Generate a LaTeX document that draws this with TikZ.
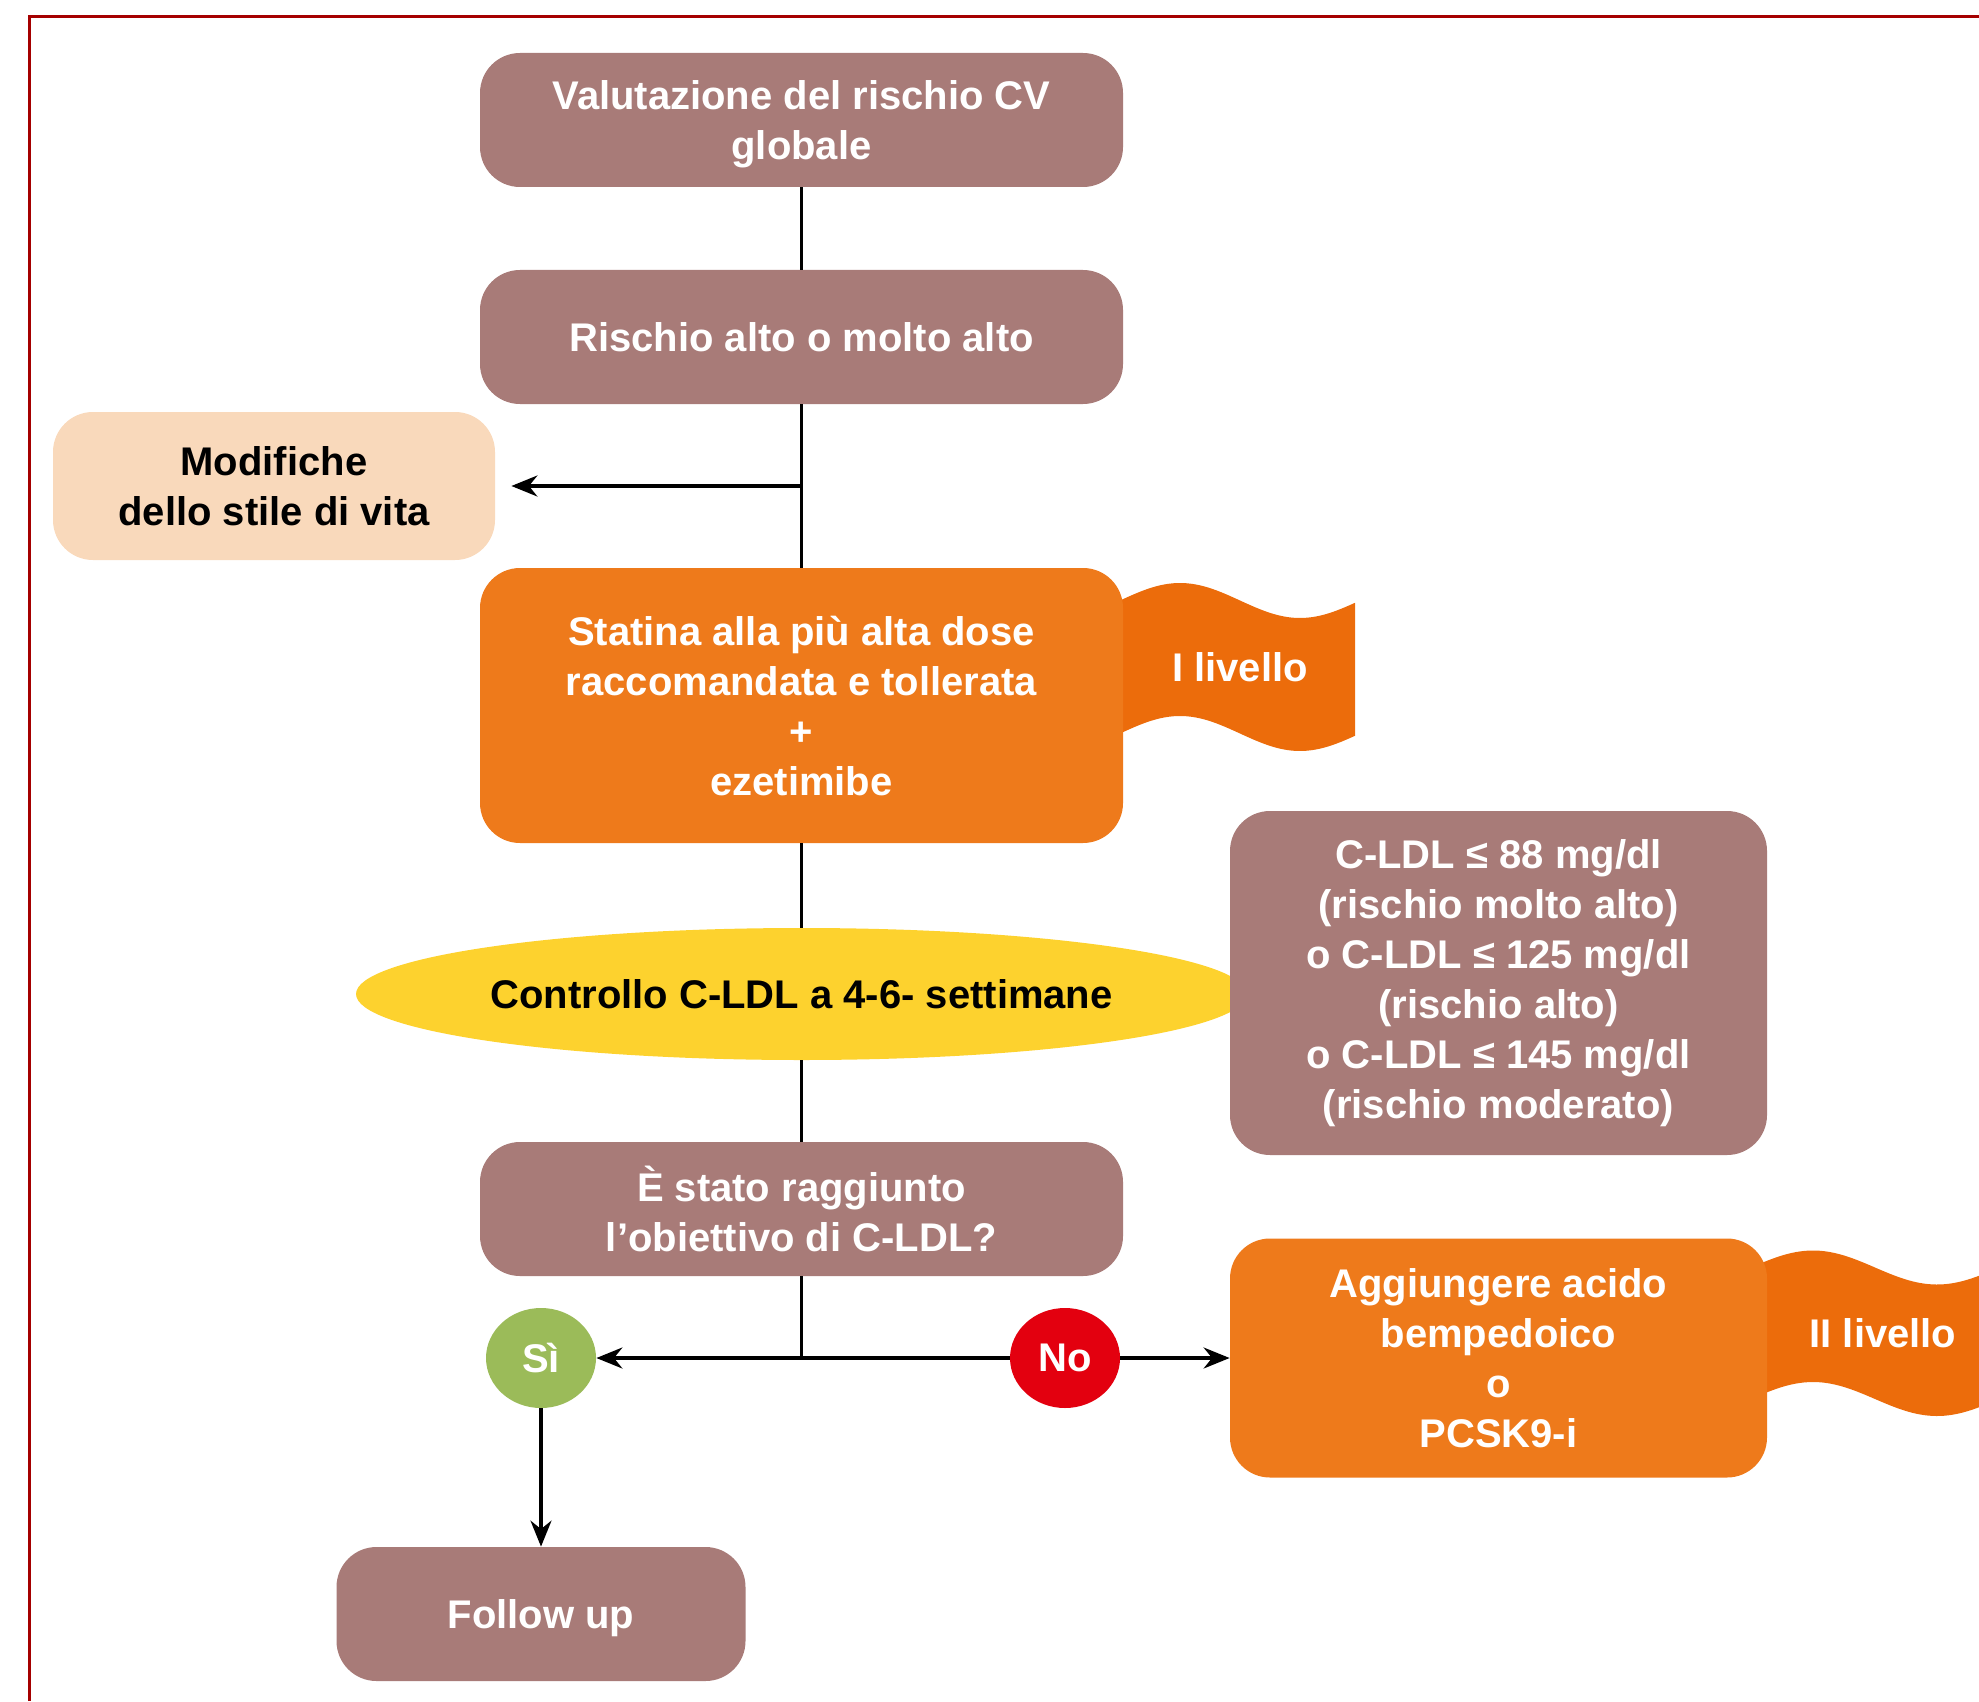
\documentclass[tikz,border=0pt]{standalone}
\usepackage{fontspec}
\setmainfont{Liberation Sans}
\usetikzlibrary{shapes.geometric,arrows.meta}

\definecolor{mauve}{HTML}{A87B78}
\definecolor{boxor}{HTML}{EE7A1B}
\definecolor{flagor}{HTML}{EC6C0B}
\definecolor{peach}{HTML}{F9D9BB}
\definecolor{giallo}{HTML}{FDD22E}
\definecolor{verde}{HTML}{9BBB59}
\definecolor{rosso}{HTML}{E3000F}
\definecolor{cornice}{HTML}{A50000}

\tikzset{
	txt/.style={font=\bfseries\fontsize{20}{25}\selectfont, align=center, inner sep=0pt, text depth=0pt},
	box/.style={txt, rectangle, rounded corners=20pt, fill=mauve, text=white},
	orbox/.style={box, fill=boxor},
	choice/.style={txt, ellipse, minimum width=55pt, minimum height=50pt, text=white},
	line/.style={line width=1.6pt},
	arr/.style={line, -{Stealth[length=13pt, width=10.5pt]}}
}

\begin{document}
\begin{tikzpicture}[x=0.5pt, y=-0.5pt]
	\useasboundingbox (0,0) rectangle (1979,1701);
	\draw[cornice, line width=1.5pt] (29,1701) -- (29,17) -- (1979,17); % frame

	% flags (behind the boxes)
	\fill[flagor] plot[domain=1100:1355, samples=60] (\x, {600.5-17.5*cos(1.5*(\x-1180))})
		-- plot[domain=1355:1100, samples=60] (\x, {733.5-17.5*cos(1.5*(\x-1180))}) -- cycle;
	\fill[flagor] plot[domain=1750:1979, samples=60] (\x, {1267.5-17*cos(1.4516*(\x-1813))})
		-- plot[domain=1979:1750, samples=60] (\x, {1399-17*cos(1.4516*(\x-1813))}) -- cycle;
	\node[txt, text=white] (liv1) at (1240,667) {I livello};
	\node[txt, text=white] (liv2) at (1883,1333) {II livello};

	\node[box, minimum width=321.5pt, minimum height=67pt] (val) at (801.5,120) {Valutazione del rischio CV\\globale};
	\node[box, minimum width=321.5pt, minimum height=67pt] (risk) at (801.5,337) {Rischio alto o molto alto};
	\node[box, fill=peach, text=black, minimum width=221pt, minimum height=74pt] (mod) at (274,486) {Modifiche\\dello stile di vita};
	\node[orbox, minimum width=321.5pt, minimum height=137.5pt] (stat) at (801.5,705.5)
		{Statina alla più alta dose\\raccomandata e tollerata\\+\\ezetimibe};
	\node[txt, ellipse, fill=giallo, minimum width=445.5pt, minimum height=66pt] (ctrl) at (801.5,994)
		{Controllo C-LDL a 4-6- settimane};
	\node[box, text depth=, minimum width=268.5pt, minimum height=172pt] (target) at (1498.5,983)
		{C-LDL ≤ 88 mg/dl\\(rischio molto alto)\\o C-LDL ≤ 125 mg/dl\\(rischio alto)\\o C-LDL ≤ 145 mg/dl\\(rischio moderato)};
	\node[box, minimum width=321.5pt, minimum height=67pt] (goal) at (801.5,1209) {È stato raggiunto\\l’obiettivo di C-LDL?};
	\node[choice, fill=verde] (si) at (541,1358) {Sì};
	\node[choice, fill=rosso] (no) at (1065,1358) {No};
	\node[orbox, minimum width=268.5pt, minimum height=119.5pt] (agg) at (1498.5,1358)
		{Aggiungere acido\\bempedoico\\o\\PCSK9-i};
	\node[box, minimum width=204.5pt, minimum height=67pt] (follow) at (541,1614) {Follow up};

	% connectors
	\coordinate (j1) at (801.5,486);
	\coordinate (j2) at (801.5,1358);
	\draw[line] (val) -- (risk);
	\draw[line] (risk) -- (stat);
	\draw[arr, shorten >=8pt] (j1) -- (mod.east);
	\draw[line] (stat) -- (ctrl);
	\draw[line] (ctrl) -- (goal);
	\draw[line] (goal) -- (j2);
	\draw[arr] (j2) -- (si);
	\draw[line] (j2) -- (no);
	\draw[arr] (no) -- (agg);
	\draw[arr] (si) -- (follow);
\end{tikzpicture}
\end{document}
